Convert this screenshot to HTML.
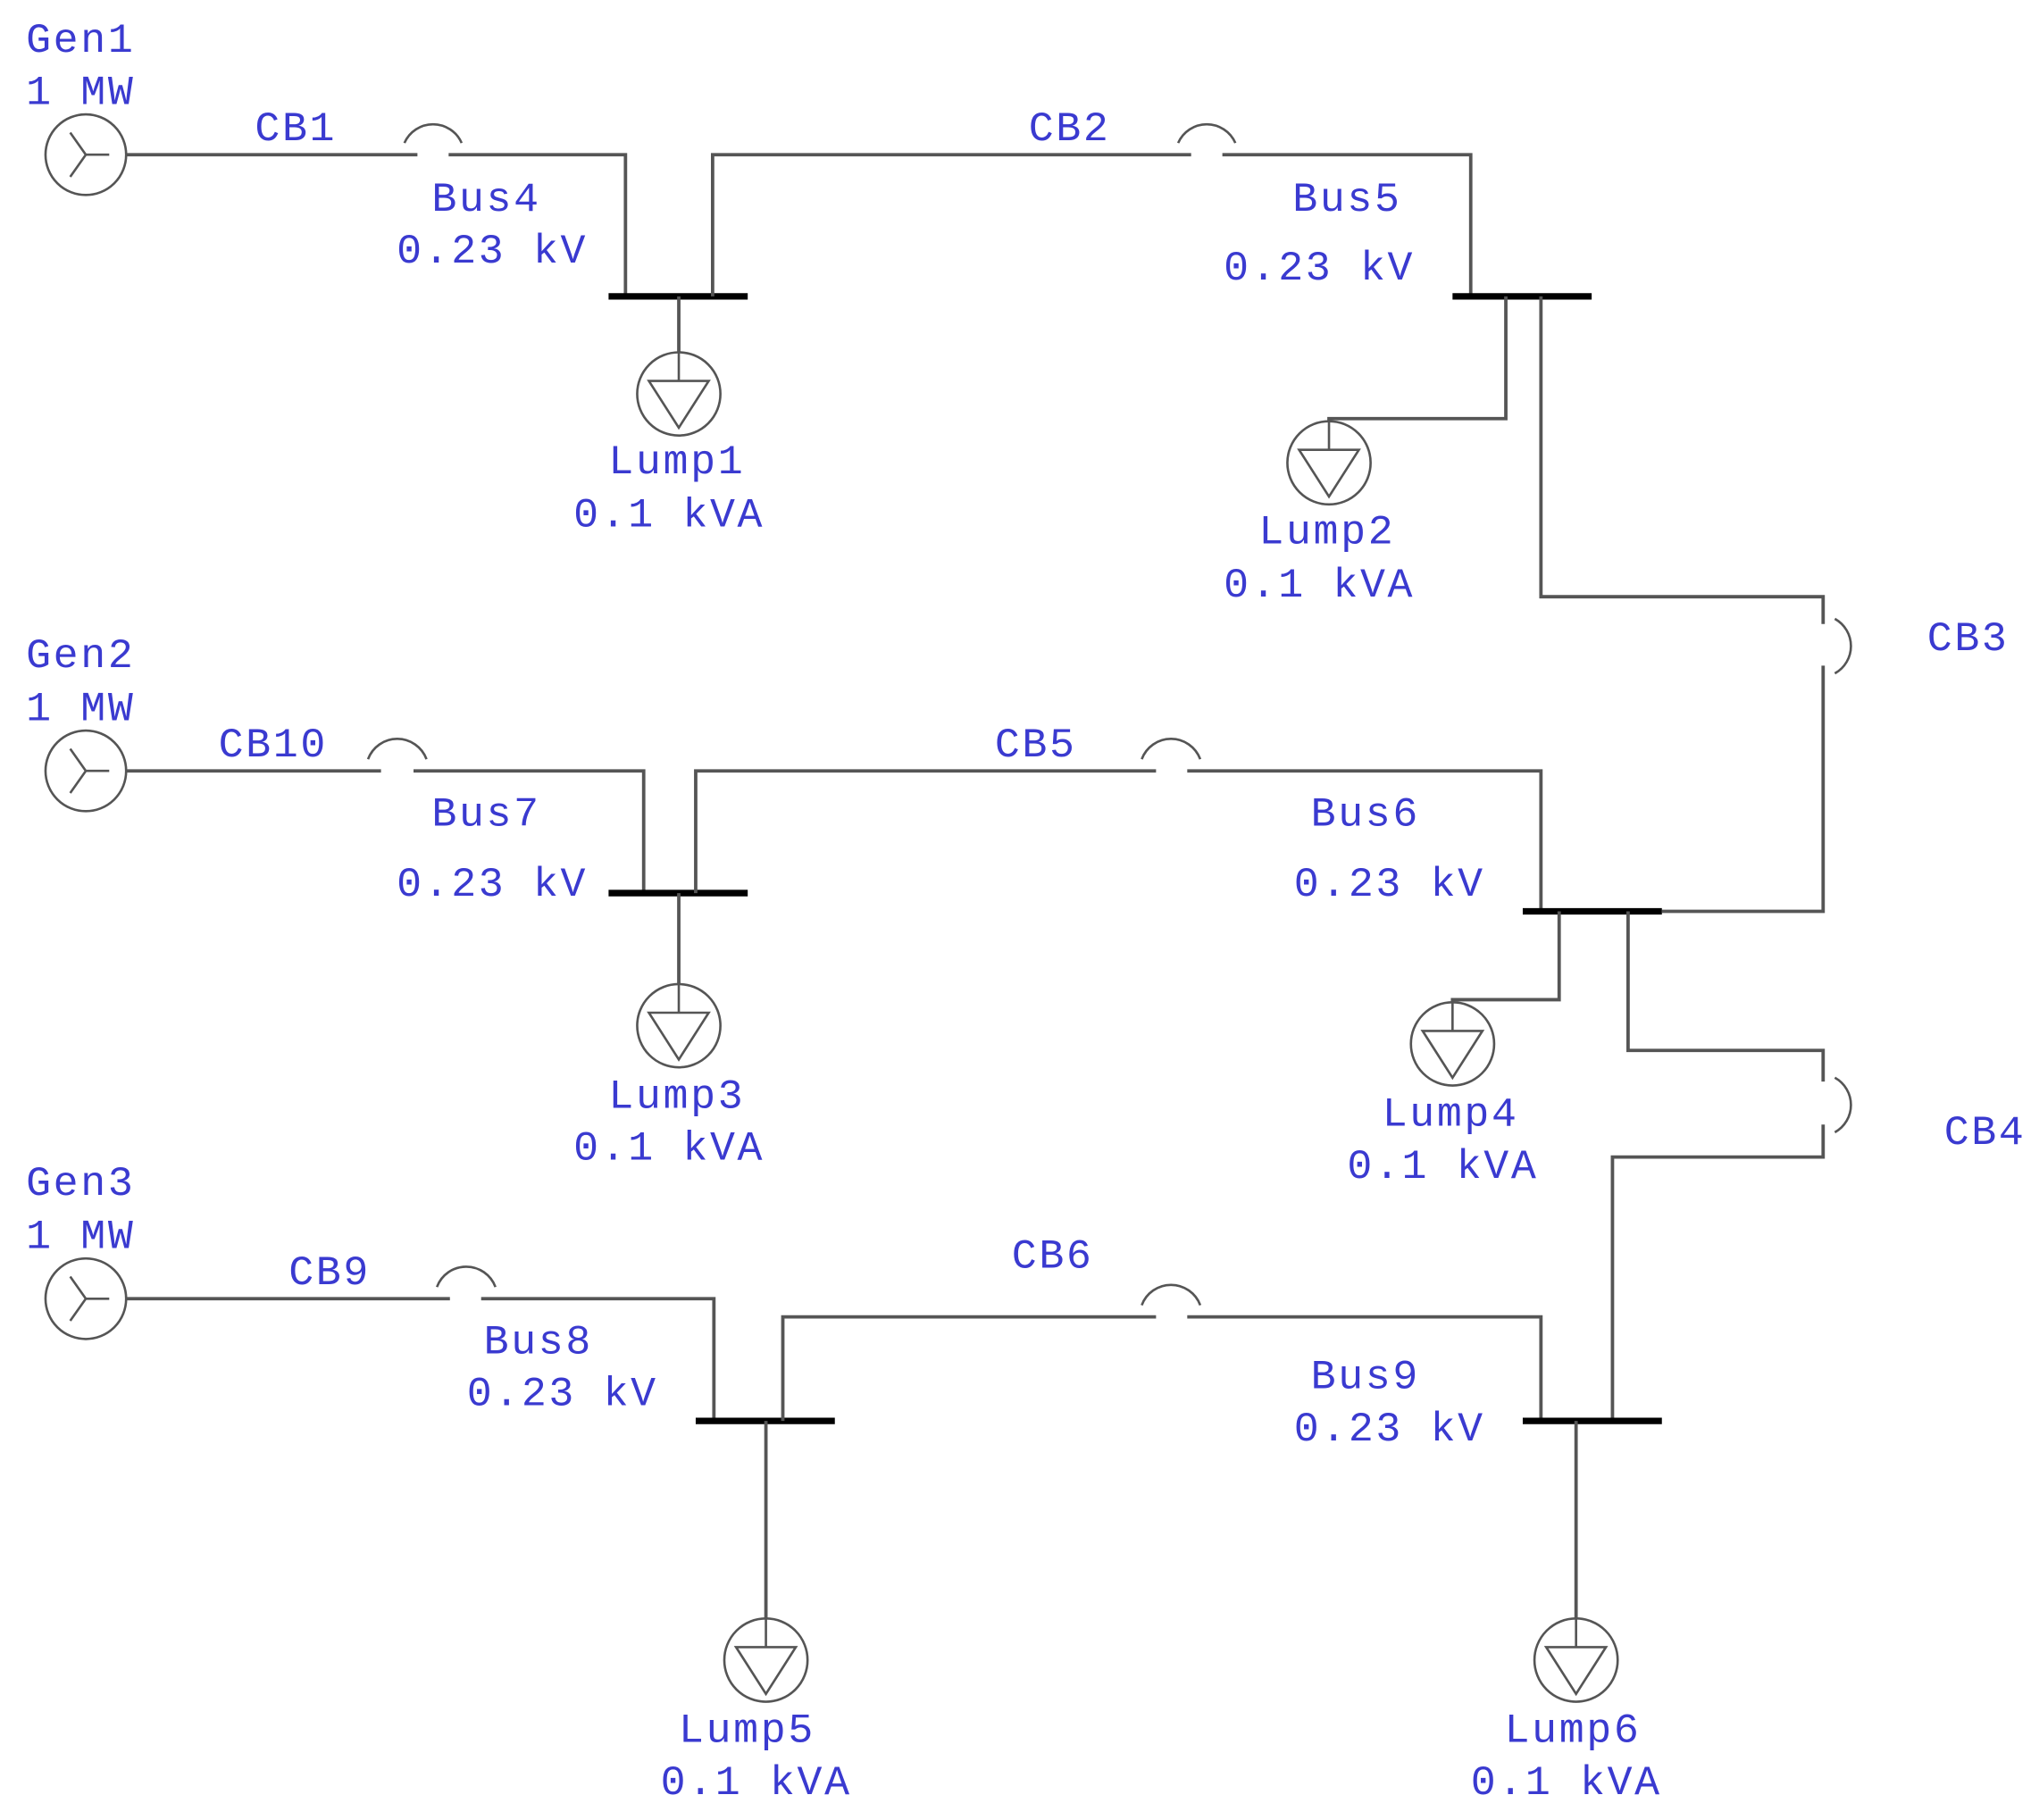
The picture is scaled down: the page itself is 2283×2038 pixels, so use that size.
<!DOCTYPE html>
<html><head><meta charset="utf-8"><style>
html,body{margin:0;padding:0;background:#fff;width:2283px;height:2038px;overflow:hidden}
svg{display:block}
text{font-family:"Liberation Mono","DejaVu Sans Mono",monospace;font-size:32px;fill:#3a3ad0;letter-spacing:1.8px}
.l{stroke:#555;stroke-width:2.6;fill:none}
.b{stroke:#000;stroke-width:5;fill:none}
.s{stroke:#555;stroke-width:1.8;fill:none}
</style></head><body>
<svg width="2283" height="2038" viewBox="0 0 1568 1400" preserveAspectRatio="none" xmlns="http://www.w3.org/2000/svg">
<defs>
<g id="gen"><circle cx="0" cy="0" r="31" class="s" stroke-width="2"/><path d="M0,0 H18 M0,0 L-12,-17 M0,0 L-12,17" class="s"/></g>
<g id="lump"><circle cx="0" cy="0" r="32" class="s"/><path d="M0,-32 V-10 M-23,-10 H23 L0,26 Z" class="s"/></g>
</defs>

<use href="#gen" x="66" y="119"/>
<path class="l" d="M97,119 H321 M345,119 H481 V228"/>
<path class="s" d="M311,110 A24,24 0 0 1 355,110"/>
<path class="b" d="M468,228 H575"/>
<path class="l" d="M548,228 V119 H916 M940,119 H1131 V228"/>
<path class="s" d="M906,110 A24,24 0 0 1 950,110"/>
<path class="b" d="M1117,228 H1224"/>
<path class="l" d="M522,228 V271"/>
<use href="#lump" x="522" y="303"/>
<path class="l" d="M1158,228 V322 H1022 V324"/>
<use href="#lump" x="1022" y="356"/>
<path class="l" d="M1185,228 V459 H1402 V480 M1402,512 V701 H1278"/>
<path class="s" d="M1411,476 A24,24 0 0 1 1411,518"/>

<use href="#gen" x="66" y="593"/>
<path class="l" d="M97,593 H293 M318,593 H495 V687"/>
<path class="s" d="M283,584 A24,24 0 0 1 328,584"/>
<path class="b" d="M468,687 H575"/>
<path class="l" d="M535,687 V593 H889 M913,593 H1185 V701"/>
<path class="s" d="M878,584 A24,24 0 0 1 923,584"/>
<path class="b" d="M1171,701 H1278"/>
<path class="l" d="M522,687 V757"/>
<use href="#lump" x="522" y="789"/>
<path class="l" d="M1199,701 V769 H1117 V771"/>
<use href="#lump" x="1117" y="803"/>
<path class="l" d="M1252,701 V808 H1402 V832 M1402,865 V890 H1240 V1093"/>
<path class="s" d="M1411,829 A24,24 0 0 1 1411,871"/>

<use href="#gen" x="66" y="999"/>
<path class="l" d="M97,999 H346 M370,999 H549 V1093"/>
<path class="s" d="M336,990 A24,24 0 0 1 381,990"/>
<path class="b" d="M535,1093 H642"/>
<path class="l" d="M602,1093 V1013 H889 M913,1013 H1185 V1093"/>
<path class="s" d="M878,1004 A24,24 0 0 1 923,1004"/>
<path class="b" d="M1171,1093 H1278"/>
<path class="l" d="M589,1093 V1245"/>
<use href="#lump" x="589" y="1277"/>
<path class="l" d="M1212,1093 V1245"/>
<use href="#lump" x="1212" y="1277"/>

<text x="20" y="40">Gen1</text><text x="20" y="80">1 MW</text>
<text x="196" y="108">CB1</text><text x="791" y="108">CB2</text>
<text x="332" y="162">Bus4</text><text x="305" y="202">0.23 kV</text>
<text x="994" y="162">Bus5</text><text x="941" y="215">0.23 kV</text>
<text x="468" y="364">Lump1</text><text x="441" y="405">0.1 kVA</text>
<text x="968" y="418">Lump2</text><text x="941" y="459">0.1 kVA</text>
<text x="1482" y="500">CB3</text>

<text x="20" y="513">Gen2</text><text x="20" y="554">1 MW</text>
<text x="168" y="582">CB10</text><text x="765" y="582">CB5</text>
<text x="332" y="635">Bus7</text><text x="305" y="689">0.23 kV</text>
<text x="1008" y="635">Bus6</text><text x="995" y="689">0.23 kV</text>
<text x="468" y="852">Lump3</text><text x="441" y="892">0.1 kVA</text>
<text x="1063" y="866">Lump4</text><text x="1036" y="906">0.1 kVA</text>
<text x="1495" y="880">CB4</text>

<text x="20" y="919">Gen3</text><text x="20" y="960">1 MW</text>
<text x="222" y="988">CB9</text><text x="778" y="975">CB6</text>
<text x="372" y="1041">Bus8</text><text x="359" y="1081">0.23 kV</text>
<text x="1008" y="1068">Bus9</text><text x="995" y="1108">0.23 kV</text>
<text x="522" y="1340">Lump5</text><text x="508" y="1380">0.1 kVA</text>
<text x="1157" y="1340">Lump6</text><text x="1131" y="1380">0.1 kVA</text>
</svg>
</body></html>
